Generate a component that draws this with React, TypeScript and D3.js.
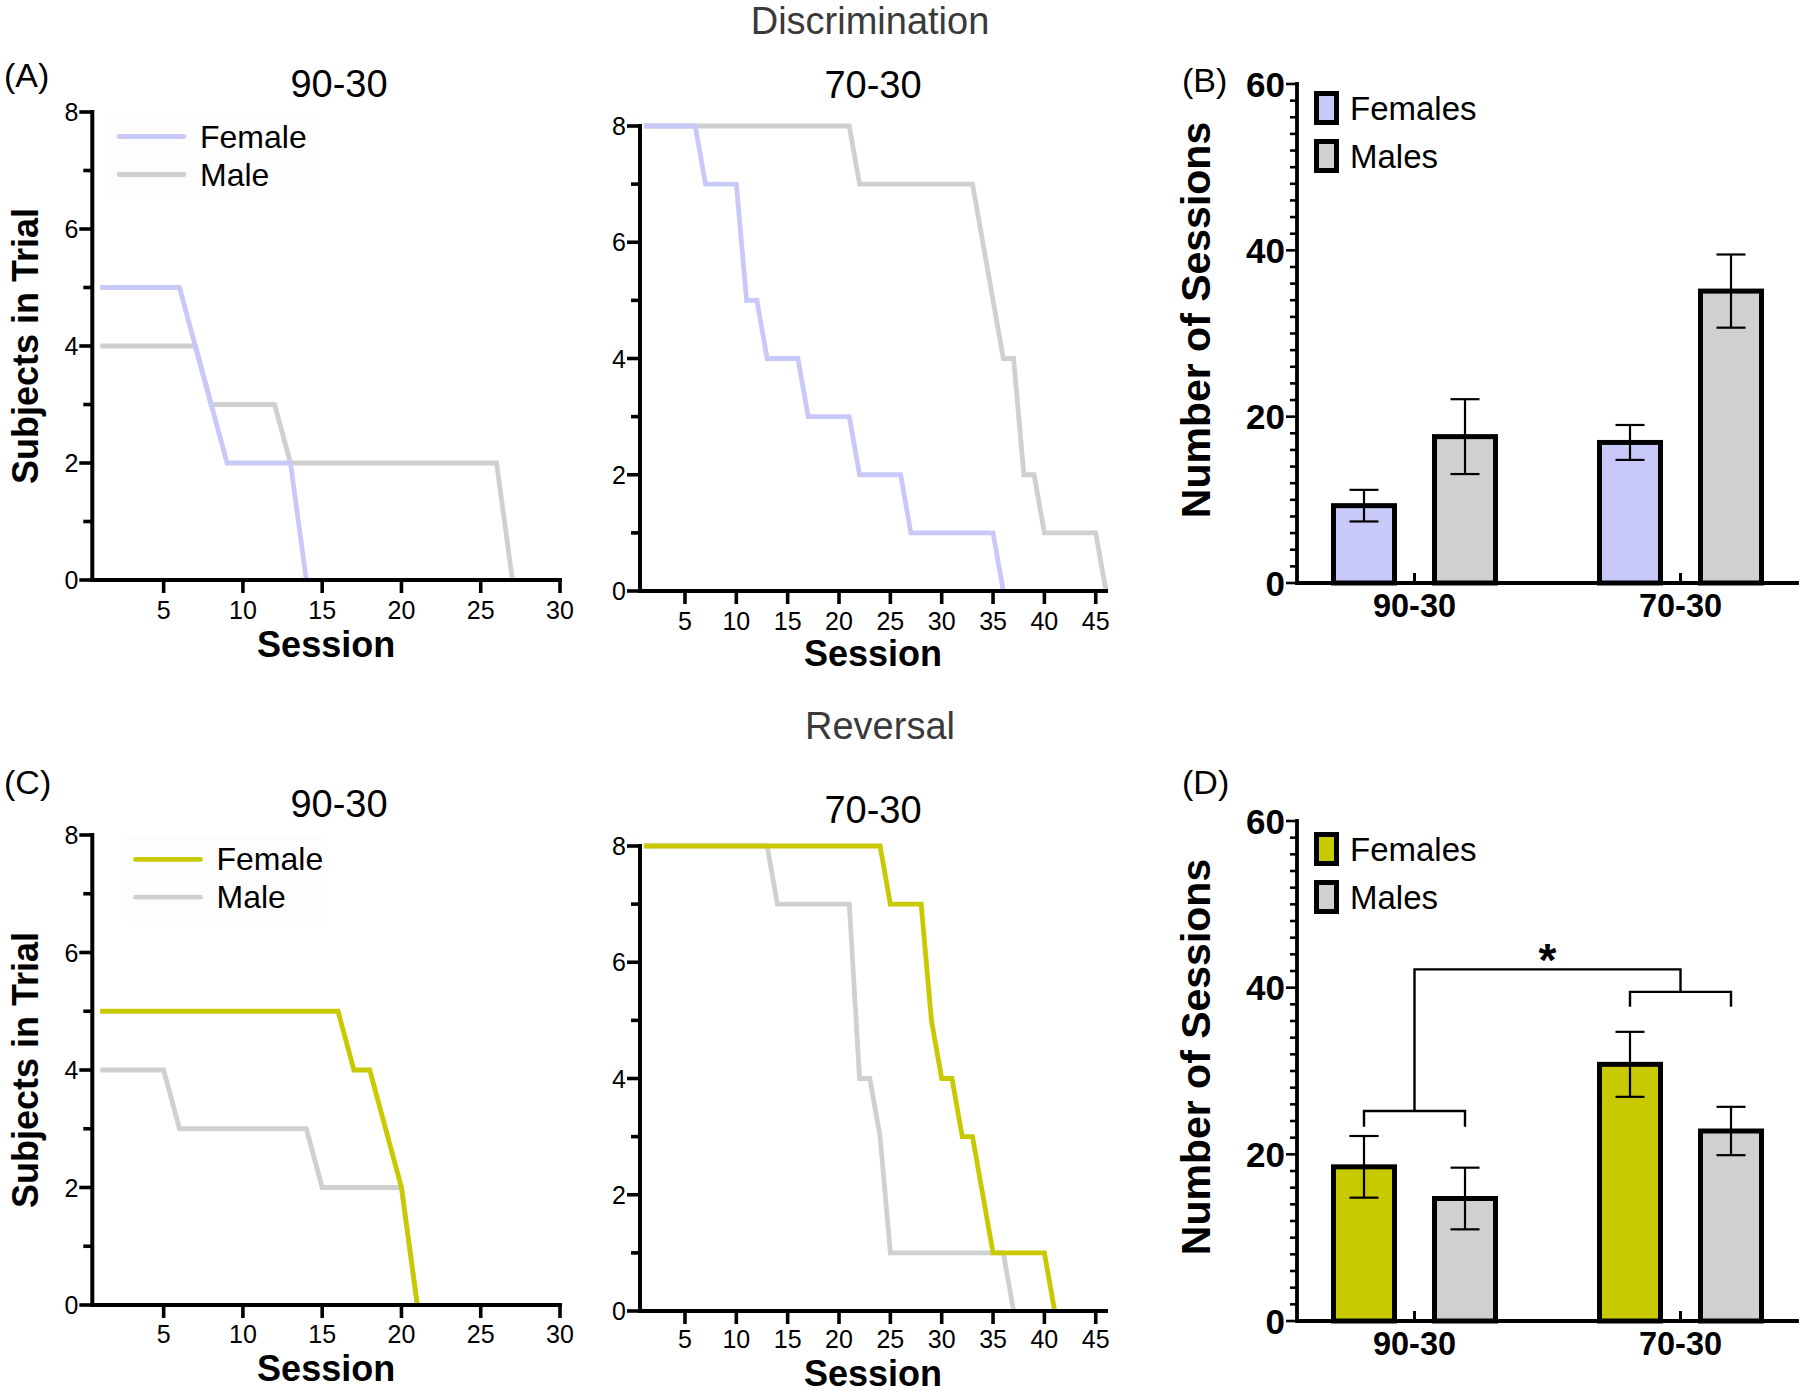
import React from 'react';
import * as d3 from 'd3';

const FONT = '"Liberation Sans", Arial, Helvetica, sans-serif';

// ---- Survival-style curves: subjects remaining in trial, session 1..N ----
const discFemale9030 = [5, 5, 5, 5, 5, 5, 4, 3, 2, 2, 2, 2, 2, 0];
const discMale9030 = [4, 4, 4, 4, 4, 4, 4, 3, 3, 3, 3, 3, 2, 2, 2, 2, 2, 2, 2, 2, 2, 2, 2, 2, 2, 2, 0];
const discFemale7030 = [8, 8, 8, 8, 8, 8, 7, 7, 7, 7, 5, 5, 4, 4, 4, 4, 3, 3, 3, 3, 3, 2, 2, 2, 2, 2, 1, 1, 1, 1, 1, 1, 1, 1, 1, 0];
const discMale7030 = [8, 8, 8, 8, 8, 8, 8, 8, 8, 8, 8, 8, 8, 8, 8, 8, 8, 8, 8, 8, 8, 7, 7, 7, 7, 7, 7, 7, 7, 7, 7, 7, 7, 6, 5, 4, 4, 2, 2, 1, 1, 1, 1, 1, 1, 0];
const revFemale9030 = [5, 5, 5, 5, 5, 5, 5, 5, 5, 5, 5, 5, 5, 5, 5, 5, 4, 4, 3, 2, 0];
const revMale9030 = [4, 4, 4, 4, 4, 3, 3, 3, 3, 3, 3, 3, 3, 3, 2, 2, 2, 2, 2, 2, 0];
const revFemale7030 = [8, 8, 8, 8, 8, 8, 8, 8, 8, 8, 8, 8, 8, 8, 8, 8, 8, 8, 8, 8, 8, 8, 8, 8, 7, 7, 7, 7, 5, 4, 4, 3, 3, 2, 1, 1, 1, 1, 1, 1, 0];
const revMale7030 = [8, 8, 8, 8, 8, 8, 8, 8, 8, 8, 8, 8, 8, 7, 7, 7, 7, 7, 7, 7, 7, 4, 4, 3, 1, 1, 1, 1, 1, 1, 1, 1, 1, 1, 1, 1, 0];

const xTicks30 = [5, 10, 15, 20, 25, 30];
const xTicks45 = [5, 10, 15, 20, 25, 30, 35, 40, 45];
const yTicksLine = [0, 2, 4, 6, 8];

// ---- Bar charts: number of sessions (mean ± SEM) ----
const conditions = ['90-30', '70-30'];
const sexes = ['Females', 'Males'];
const discFemaleMean = [9.3, 16.9];
const discFemaleSem = [1.9, 2.1];
const discMaleMean = [17.6, 35.1];
const discMaleSem = [4.5, 4.4];
const revFemaleMean = [18.5, 30.8];
const revFemaleSem = [3.7, 3.9];
const revMaleMean = [14.7, 22.8];
const revMaleSem = [3.7, 2.9];
const barYTicks = [0, 20, 40, 60];
// significance bracket levels (value units): bar level, leg end
const bracketLow = [25.2, 23.3];
const bracketHigh = [39.5, 37.7];
const bracketTop = 42.2;
const starLevel = 44.5;

const LAVENDER = '#c9c9f9';
const GRAY = '#d0d0d0';
const YELLOW = '#c9c900';

type LineProps = {
  title: string;
  titleBaseline: number;
  titleX: number;
  xDomain: [number, number];
  xRange: [number, number];
  xTicks: number[];
  yRange: [number, number];
  female: number[];
  male: number[];
  femaleColor: string;
  showYLabel: boolean;
  sessionOffset: number;
  tickOffset: number;
  legend?: { lineX: [number, number]; textX: number; fy: number; my: number; box: [number, number, number, number] };
};

function LinePanel(p: LineProps) {
  const x = d3.scaleLinear().domain(p.xDomain).range(p.xRange);
  const y = d3.scaleLinear().domain([0, 8]).range(p.yRange);
  const line = d3
    .line<number>()
    .x((_, i) => x(i + 1))
    .y((d) => y(d));
  const x0 = p.xRange[0];
  const y0 = y(0);
  const allY = d3.range(0, 9);
  return (
    <g>
      <text x={p.titleX} y={p.titleBaseline} textAnchor="middle" fontSize={38} fontFamily={FONT} fill="#000">
        {p.title}
      </text>
      {p.legend && (
        <g>
          <rect x={p.legend.box[0]} y={p.legend.box[1]} width={p.legend.box[2]} height={p.legend.box[3]} fill="#fdfdfd" />
          <line x1={p.legend.lineX[0]} x2={p.legend.lineX[1]} y1={p.legend.fy} y2={p.legend.fy} stroke={p.femaleColor} strokeWidth={4.8} strokeLinecap="round" />
          <line x1={p.legend.lineX[0]} x2={p.legend.lineX[1]} y1={p.legend.my} y2={p.legend.my} stroke={GRAY} strokeWidth={4.8} strokeLinecap="round" />
          <text x={p.legend.textX} y={p.legend.fy + 11} fontSize={32} fontFamily={FONT}>Female</text>
          <text x={p.legend.textX} y={p.legend.my + 11} fontSize={32} fontFamily={FONT}>Male</text>
        </g>
      )}
      <path d={line(p.male) || ''} fill="none" stroke={GRAY} strokeWidth={4.8} strokeLinejoin="miter" />
      <path d={line(p.female) || ''} fill="none" stroke={p.femaleColor} strokeWidth={4.8} strokeLinejoin="miter" />
      {/* axes */}
      <path d={`M${x0},${y(8)} V${y0} H${p.xRange[1]}`} fill="none" stroke="#000" strokeWidth={4} strokeLinecap="square" />
      {allY.map((t) => (
        <line key={t} x1={x0 - (t % 2 === 0 ? 13 : 9)} x2={x0} y1={y(t)} y2={y(t)} stroke="#000" strokeWidth={3.6} />
      ))}
      {yTicksLine.map((t) => (
        <text key={t} x={x0 - 14} y={y(t)} dy="0.36em" textAnchor="end" fontSize={25} fontFamily={FONT}>
          {t}
        </text>
      ))}
      {p.xTicks.map((t) => (
        <g key={t}>
          <line x1={x(t)} x2={x(t)} y1={y0} y2={y0 + 13} stroke="#000" strokeWidth={3.6} />
          <text x={x(t)} y={y0 + p.tickOffset} textAnchor="middle" fontSize={25} fontFamily={FONT}>
            {t}
          </text>
        </g>
      ))}
      <text x={(p.xRange[0] + p.xRange[1]) / 2} y={y0 + p.sessionOffset} textAnchor="middle" fontSize={36} fontWeight="bold" fontFamily={FONT}>
        Session
      </text>
      {p.showYLabel && (
        <text
          transform={`translate(38,${(p.yRange[0] + p.yRange[1]) / 2}) rotate(-90)`}
          textAnchor="middle"
          fontSize={36}
          fontWeight="bold"
          fontFamily={FONT}
        >
          Subjects in Trial
        </text>
      )}
    </g>
  );
}

type BarProps = {
  yRange: [number, number];
  fMean: number[];
  fSem: number[];
  mMean: number[];
  mSem: number[];
  femaleColor: string;
  legendTop: number;
  labelCenterY: number;
  brackets?: boolean;
};

function BarPanel(p: BarProps) {
  const axisX = 1297;
  const y = d3.scaleLinear().domain([0, 60]).range(p.yRange);
  const xg = d3.scalePoint<string>().domain(conditions).range([1414.5, 1680.5]);
  const xs = d3.scalePoint<string>().domain(sexes).range([-50.5, 50.5]);
  const barW = 61;
  const capW = 29;
  const y0 = y(0);
  const minor = d3.range(0, 61, 2);
  const series = [
    { sex: 'Females', mean: p.fMean, sem: p.fSem, color: p.femaleColor },
    { sex: 'Males', mean: p.mMean, sem: p.mSem, color: GRAY },
  ];
  const cx = (c: string, s: string) => (xg(c) as number) + (xs(s) as number);
  return (
    <g>
      {series.map((s) =>
        conditions.map((c, i) => (
          <rect
            key={s.sex + c}
            x={cx(c, s.sex) - barW / 2}
            y={y(s.mean[i])}
            width={barW}
            height={y0 - y(s.mean[i])}
            fill={s.color}
            stroke="#000"
            strokeWidth={5}
          />
        ))
      )}
      {series.map((s) =>
        conditions.map((c, i) => {
          const X = cx(c, s.sex);
          const hi = y(s.mean[i] + s.sem[i]);
          const lo = y(s.mean[i] - s.sem[i]);
          return (
            <g key={'e' + s.sex + c} stroke="#000" strokeWidth={2.2}>
              <line x1={X} x2={X} y1={hi} y2={lo} />
              <line x1={X - capW / 2} x2={X + capW / 2} y1={hi} y2={hi} />
              <line x1={X - capW / 2} x2={X + capW / 2} y1={lo} y2={lo} />
            </g>
          );
        })
      )}
      {/* axes */}
      <path d={`M${axisX},${y(60)} V${y0} H1797`} fill="none" stroke="#000" strokeWidth={3.8} strokeLinecap="square" />
      {minor.map((t) => (
        <line key={t} x1={axisX - (t % 20 === 0 ? 11 : 7)} x2={axisX} y1={y(t)} y2={y(t)} stroke="#000" strokeWidth={2.6} />
      ))}
      {barYTicks.map((t) => (
        <text key={t} x={1285} y={y(t)} dy="0.36em" textAnchor="end" fontSize={35} fontWeight="bold" fontFamily={FONT}>
          {t}
        </text>
      ))}
      {conditions.map((c) => (
        <g key={c}>
          <line x1={xg(c)} x2={xg(c)} y1={y0} y2={y0 - 10} stroke="#000" strokeWidth={3} />
          <text x={xg(c)} y={y0 + 34} textAnchor="middle" fontSize={32.5} fontWeight="bold" fontFamily={FONT}>
            {c}
          </text>
        </g>
      ))}
      <text
        transform={`translate(1210,${p.labelCenterY}) rotate(-90)`}
        textAnchor="middle"
        fontSize={41}
        fontWeight="bold"
        fontFamily={FONT}
      >
        Number of Sessions
      </text>
      {/* legend */}
      {series.map((s, i) => (
        <g key={'lg' + s.sex}>
          <rect x={1316.5} y={p.legendTop + i * 48} width={20} height={29} fill={s.color} stroke="#000" strokeWidth={5} />
          <text x={1350} y={p.legendTop + i * 48 + 26} fontSize={33} fontFamily={FONT}>
            {s.sex}
          </text>
        </g>
      ))}
      {p.brackets && (
        <g stroke="#000" strokeWidth={2.4} fill="none">
          <path
            d={`M${cx('90-30', 'Females')},${y(bracketLow[1])} V${y(bracketLow[0])} H${cx('90-30', 'Males')} V${y(bracketLow[1])}`}
          />
          <path
            d={`M${cx('70-30', 'Females')},${y(bracketHigh[1])} V${y(bracketHigh[0])} H${cx('70-30', 'Males')} V${y(bracketHigh[1])}`}
          />
          <path d={`M${xg('90-30')},${y(bracketLow[0])} V${y(bracketTop)} H${xg('70-30')} V${y(bracketHigh[0])}`} />
        </g>
      )}
      {p.brackets && (
        <text
          x={((xg('90-30') as number) + (xg('70-30') as number)) / 2}
          y={y(starLevel) + 26}
          textAnchor="middle"
          fontSize={46}
          fontWeight="bold"
          fontFamily={FONT}
        >
          *
        </text>
      )}
    </g>
  );
}

export default function App() {
  return (
    <div style={{ position: 'absolute', left: 0, top: 0, width: 1800, height: 1393, background: '#fff' }}>
      <svg width={1800} height={1393} viewBox="0 0 1800 1393" style={{ display: 'block' }}>
        <rect x={0} y={0} width={1800} height={1393} fill="#fff" />
        <text x={870} y={34} textAnchor="middle" fontSize={38} fontFamily={FONT} fill="#3a3a3a">
          Discrimination
        </text>
        <text x={880} y={739} textAnchor="middle" fontSize={38} fontFamily={FONT} fill="#3a3a3a">
          Reversal
        </text>
        <text x={4} y={87} fontSize={34} fontFamily={FONT}>(A)</text>
        <text x={1182} y={92} fontSize={34} fontFamily={FONT}>(B)</text>
        <text x={4} y={794} fontSize={34} fontFamily={FONT}>(C)</text>
        <text x={1182} y={794} fontSize={34} fontFamily={FONT}>(D)</text>

        <LinePanel
          title="90-30"
          titleX={339}
          titleBaseline={97}
          xDomain={[0.5, 30]}
          xRange={[92.3, 560]}
          xTicks={xTicks30}
          yRange={[580, 112]}
          female={discFemale9030}
          male={discMale9030}
          femaleColor={LAVENDER}
          showYLabel
          sessionOffset={77}
          tickOffset={39}
          legend={{ lineX: [119, 184], textX: 200, fy: 136.5, my: 174.5, box: [108, 112, 206, 86] }}
        />
        <LinePanel
          title="70-30"
          titleX={873}
          titleBaseline={98}
          xDomain={[0.62, 46]}
          xRange={[640, 1106]}
          xTicks={xTicks45}
          yRange={[591, 126]}
          female={discFemale7030}
          male={discMale7030}
          femaleColor={LAVENDER}
          showYLabel={false}
          sessionOffset={75}
          tickOffset={39}
        />
        <LinePanel
          title="90-30"
          titleX={339}
          titleBaseline={817}
          xDomain={[0.5, 30]}
          xRange={[92.3, 560]}
          xTicks={xTicks30}
          yRange={[1305, 835]}
          female={revFemale9030}
          male={revMale9030}
          femaleColor={YELLOW}
          showYLabel
          sessionOffset={76}
          tickOffset={38}
          legend={{ lineX: [135.5, 200.5], textX: 216.5, fy: 859.4, my: 897.2, box: [126, 836, 201, 86] }}
        />
        <LinePanel
          title="70-30"
          titleX={873}
          titleBaseline={823}
          xDomain={[0.62, 46]}
          xRange={[640, 1106]}
          xTicks={xTicks45}
          yRange={[1311, 846]}
          female={revFemale7030}
          male={revMale7030}
          femaleColor={YELLOW}
          showYLabel={false}
          sessionOffset={75}
          tickOffset={37}
        />

        <BarPanel
          yRange={[583, 84]}
          fMean={discFemaleMean}
          fSem={discFemaleSem}
          mMean={discMaleMean}
          mSem={discMaleSem}
          femaleColor={LAVENDER}
          legendTop={93.5}
          labelCenterY={320}
        />
        <BarPanel
          yRange={[1321, 821]}
          fMean={revFemaleMean}
          fSem={revFemaleSem}
          mMean={revMaleMean}
          mSem={revMaleSem}
          femaleColor={YELLOW}
          legendTop={834.5}
          labelCenterY={1057}
          brackets
        />
      </svg>
    </div>
  );
}
